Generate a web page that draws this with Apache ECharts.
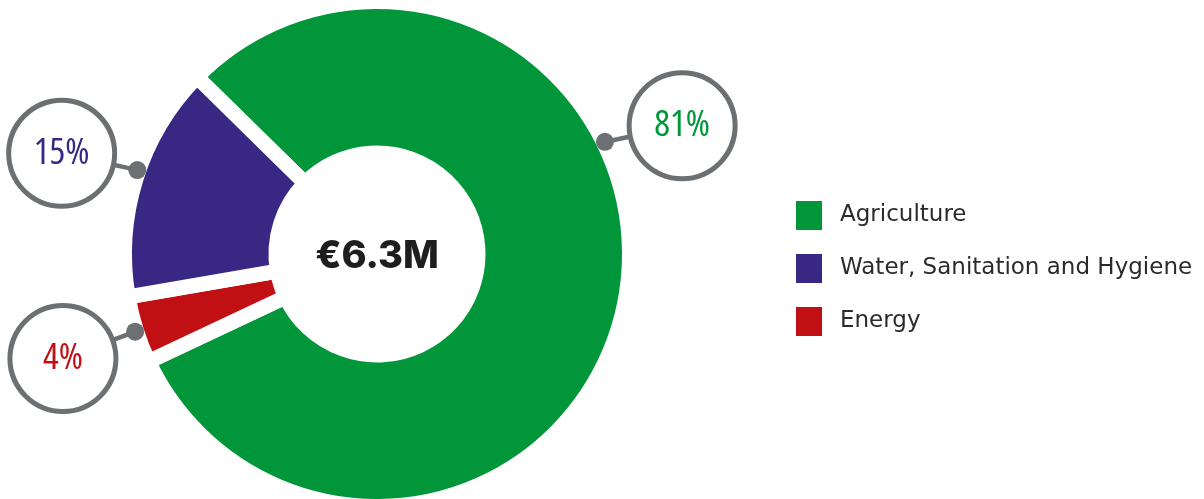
<!DOCTYPE html>
<html><head><meta charset="utf-8">
<script src="https://cdn.jsdelivr.net/npm/echarts@6/dist/echarts.min.js"></script>
<style>html,body{margin:0;padding:0;background:#fff}#c{width:1204px;height:499px}</style>
</head><body><div id="c"></div>
<script>
// ---- data ----
const categories = ['Agriculture', 'Water, Sanitation and Hygiene', 'Energy'];
const amountsEurM = [5.08, 0.95, 0.27];
const centerLabel = '€6.3M';
const sliceColors = ['#009639', '#392883', '#c11014'];
const clockwiseOrder = [0, 2, 1];

// ---- layout ----
const CX = 377, CY = 254, R_OUT = 252.5, R_IN = 101, GAP = 15;
const START_CW = 314.5;
const DOT_R = 254, RING_R = 331, RING_SIZE = 101;
// callout directions (degrees clockwise from 12 o'clock) per category
const calloutAngles = {0: {dot: 63.8, ring: 67.2}, 1: {dot: 289.3, ring: 287.7}, 2: {dot: 252.2, ring: 251.6}};
const GRAY = '#6c7073';

function pt(r, deg) { const a = deg * Math.PI / 180; return [CX + r * Math.sin(a), CY - r * Math.cos(a)]; }
function anglesFor(i) { return calloutAngles[i]; }

const chart = echarts.init(document.getElementById('c'), null, {renderer: 'canvas'});
const option = {
  animation: false,
  legend: {
    orient: 'vertical', left: 796, top: 201, padding: 0,
    itemWidth: 26, itemHeight: 29, itemGap: 24,
    icon: 'rect',
    itemStyle: {borderWidth: 0},
    data: categories,
    textStyle: {fontFamily: 'DejaVu Sans', fontSize: 23, color: '#2b2b2b', padding: [0, 0, 0, 13]},
    selectedMode: false
  },
  graphic: [
    {type: 'text', x: CX, y: CY + 3, z: 100,
     style: {text: centerLabel, align: 'center', verticalAlign: 'middle',
             fontFamily: 'Inter, Lato, sans-serif', fontWeight: 800, fontSize: 38, fill: '#1e1e1e'}}
  ].concat(categories.map((c, i) => {
    const p = pt(DOT_R, anglesFor(i).dot);
    return {type: 'circle', z: 100, shape: {cx: p[0], cy: p[1], r: 9}, style: {fill: GRAY}};
  })),
  series: [{
    type: 'pie',
    center: [CX, CY],
    radius: [R_IN, R_OUT],
    startAngle: ((90 - START_CW) % 360 + 360) % 360,
    clockwise: true,
    avoidLabelOverlap: false,
    percentPrecision: 0,
    itemStyle: {borderColor: '#ffffff', borderWidth: GAP, borderJoin: 'miter'},
    emphasis: {disabled: true},
    label: {
      show: true, position: 'outside', formatter: '{d}%',
      fontFamily: '"Open Sans", sans-serif',
      fontWeight: '400 condensed',
      fontSize: 37,
      width: RING_SIZE, height: RING_SIZE, lineHeight: RING_SIZE,
      align: 'center', verticalAlign: 'middle',
      backgroundColor: '#ffffff', borderColor: GRAY, borderWidth: 5, borderRadius: RING_SIZE / 2,
      padding: 0
    },
    labelLine: {show: true, length: 20, length2: 10, lineStyle: {color: GRAY, width: 4.5}},
    labelLayout: function (params) {
      const i = clockwiseOrder[params.dataIndex];
      const a = anglesFor(i);
      const rc = pt(RING_R, a.ring);
      const d = pt(DOT_R, a.dot);
      const dx = d[0] - rc[0], dy = d[1] - rc[1];
      const len = Math.sqrt(dx * dx + dy * dy);
      const e = [rc[0] + dx / len * (RING_SIZE / 2), rc[1] + dy / len * (RING_SIZE / 2)];
      const m = [(d[0] + e[0]) / 2, (d[1] + e[1]) / 2];
      return {x: rc[0], y: rc[1], align: 'center', verticalAlign: 'middle', labelLinePoints: [d, m, e]};
    },
    data: clockwiseOrder.map(i => ({
      name: categories[i], value: amountsEurM[i],
      itemStyle: {color: sliceColors[i]},
      label: {color: sliceColors[i]}
    }))
  }]
};
chart.setOption(option);
</script>
</body></html>
